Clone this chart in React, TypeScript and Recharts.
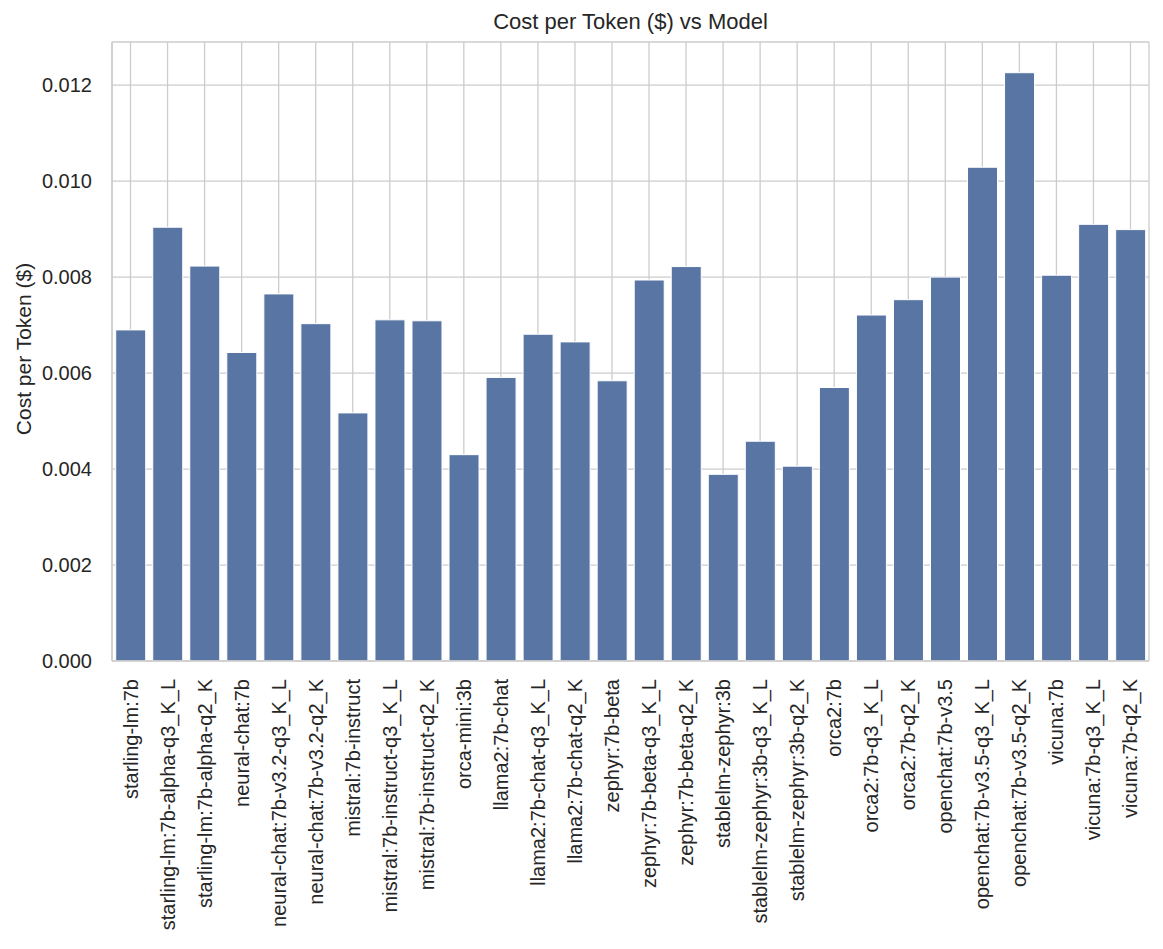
import React from 'react';
import { BarChart, Bar, XAxis, YAxis, CartesianGrid } from 'recharts';

const models = [
  'starling-lm:7b',
  'starling-lm:7b-alpha-q3_K_L',
  'starling-lm:7b-alpha-q2_K',
  'neural-chat:7b',
  'neural-chat:7b-v3.2-q3_K_L',
  'neural-chat:7b-v3.2-q2_K',
  'mistral:7b-instruct',
  'mistral:7b-instruct-q3_K_L',
  'mistral:7b-instruct-q2_K',
  'orca-mini:3b',
  'llama2:7b-chat',
  'llama2:7b-chat-q3_K_L',
  'llama2:7b-chat-q2_K',
  'zephyr:7b-beta',
  'zephyr:7b-beta-q3_K_L',
  'zephyr:7b-beta-q2_K',
  'stablelm-zephyr:3b',
  'stablelm-zephyr:3b-q3_K_L',
  'stablelm-zephyr:3b-q2_K',
  'orca2:7b',
  'orca2:7b-q3_K_L',
  'orca2:7b-q2_K',
  'openchat:7b-v3.5',
  'openchat:7b-v3.5-q3_K_L',
  'openchat:7b-v3.5-q2_K',
  'vicuna:7b',
  'vicuna:7b-q3_K_L',
  'vicuna:7b-q2_K',
];

const costPerToken = [
  0.0069, 0.00904, 0.00823, 0.00643, 0.00765, 0.00703, 0.00517, 0.00711, 0.00709, 0.0043,
  0.00591, 0.00681, 0.00665, 0.00584, 0.00794, 0.00822, 0.00389, 0.00458, 0.00406, 0.0057,
  0.00721, 0.00753, 0.008, 0.01029, 0.01226, 0.00804, 0.0091, 0.00899,
];

const yTicks = [0, 0.002, 0.004, 0.006, 0.008, 0.01, 0.012];

const data = models.map((name, i) => ({ name, cost: costPerToken[i] }));

const FONT = '"Liberation Sans", Arial, sans-serif';
const TEXT = '#262626';
const GRID = '#cccccc';

const ModelTick = (props: any) => {
  const { x, y, payload } = props;
  return (
    <text
      transform={`translate(${x},${y + 8}) rotate(-90)`}
      textAnchor="end"
      dy="0.35em"
      fontSize={20}
      fontFamily={FONT}
      fill={TEXT}
    >
      {payload.value}
    </text>
  );
};

export default function App() {
  return (
    <div style={{ position: 'absolute', left: 0, top: 0, width: 1163, height: 949, background: '#fff' }}>
      <div
        style={{
          position: 'absolute',
          left: 112,
          width: 1037,
          top: 9,
          textAlign: 'center',
          fontFamily: FONT,
          fontSize: 22,
          lineHeight: '26px',
          color: TEXT,
        }}
      >
        Cost per Token ($) vs Model
      </div>
      <div
        style={{
          position: 'absolute',
          left: 24,
          top: 349,
          transform: 'translate(-50%, -50%) rotate(-90deg)',
          whiteSpace: 'nowrap',
          fontFamily: FONT,
          fontSize: 21,
          lineHeight: '24px',
          color: TEXT,
        }}
      >
        Cost per Token ($)
      </div>
      <BarChart
        width={1163}
        height={949}
        data={data}
        margin={{ top: 42, right: 14, bottom: 0, left: 0 }}
        barCategoryGap="10%"
      >
        <CartesianGrid stroke={GRID} strokeWidth={1.3} />
        <XAxis
          dataKey="name"
          interval={0}
          height={288}
          tick={<ModelTick />}
          tickLine={false}
          axisLine={{ stroke: GRID, strokeWidth: 1.5 }}
          tickMargin={4}
        />
        <XAxis xAxisId="top" orientation="top" dataKey="name" height={0} tick={false} tickLine={false} axisLine={{ stroke: GRID, strokeWidth: 1.5 }} />
        <YAxis
          domain={[0, 0.0129]}
          ticks={yTicks}
          width={112}
          tickFormatter={(v: number) => v.toFixed(3)}
          tick={{ fontSize: 20, fill: TEXT, fontFamily: FONT }}
          tickLine={false}
          tickMargin={14}
          axisLine={{ stroke: GRID, strokeWidth: 1.5 }}
        />
        <YAxis yAxisId="right" orientation="right" domain={[0, 0.0129]} width={0} tick={false} tickLine={false} axisLine={{ stroke: GRID, strokeWidth: 1.5 }} />
        <Bar dataKey="cost" fill="#5975a4" stroke="#ffffff" strokeWidth={1} isAnimationActive={false} />
      </BarChart>
    </div>
  );
}
